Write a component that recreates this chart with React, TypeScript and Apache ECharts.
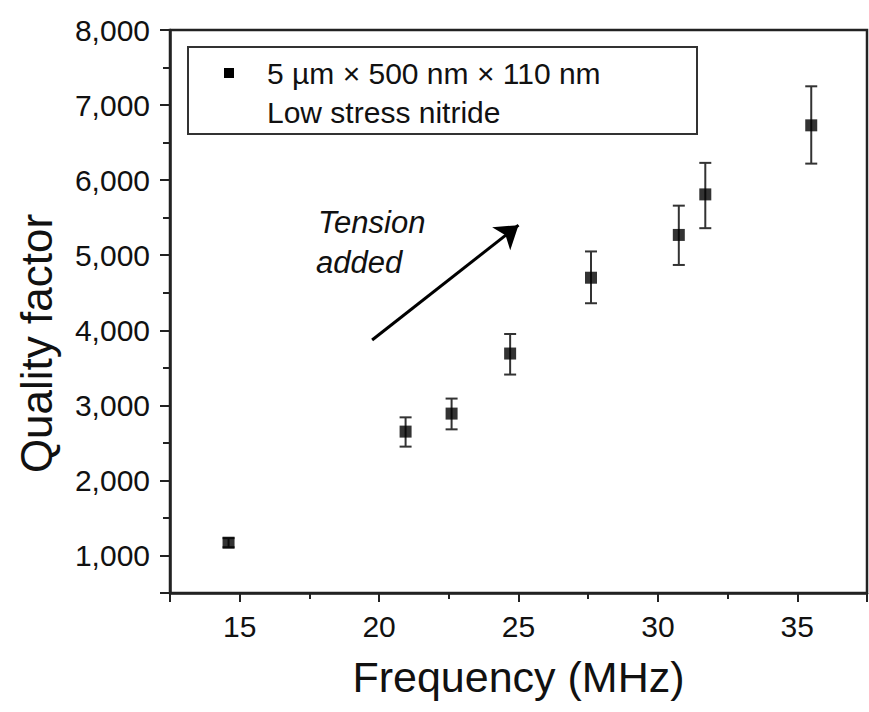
import React, { useEffect, useRef } from "react";
import * as echarts from "echarts";

const freqMHz = [14.6, 20.95, 22.6, 24.7, 27.6, 30.75, 31.7, 35.5];
const qualityFactor = [1170, 2650, 2890, 3690, 4700, 5270, 5810, 6730];
const qLow = [1110, 2450, 2680, 3410, 4360, 4870, 5360, 6220];
const qHigh = [1230, 2840, 3090, 3950, 5050, 5660, 6230, 7250];
const arrowStart = [19.75, 3870];
const arrowEnd = [25.0, 5400];
const legendLines = ["5 µm × 500 nm × 110 nm", "Low stress nitride"];
const annotationLines = ["Tension", "added"];
const xTitle = "Frequency (MHz)";
const yTitle = "Quality factor";

const FONT = "'Liberation Sans', Arial, Helvetica, sans-serif";
const INK = "#111";

export default function App() {
  const ref = useRef<HTMLDivElement>(null);
  useEffect(() => {
    if (!ref.current) return;
    const chart = echarts.init(ref.current, null, { renderer: "svg" });
    const option: any = {
      animation: false,
      backgroundColor: "#fff",
      grid: {
        left: 170,
        right: 2,
        top: 30,
        bottom: 119,
        show: true,
        borderColor: "#222",
        borderWidth: 2.5,
        backgroundColor: "transparent",
      },
      xAxis: {
        type: "value",
        min: 12.5,
        max: 37.5,
        splitNumber: 5,
        name: xTitle,
        nameLocation: "middle",
        nameGap: 62,
        nameTextStyle: { fontFamily: FONT, fontSize: 43, color: INK },
        axisLine: { show: true, lineStyle: { color: "#222", width: 2.5 } },
        axisTick: { show: true, inside: false, length: 9, lineStyle: { color: "#222", width: 2 } },
        minorTick: { show: true, splitNumber: 2, length: 6, lineStyle: { color: "#222", width: 2 } },
        axisLabel: {
          showMinLabel: false,
          showMaxLabel: false,
          margin: 18,
          fontFamily: FONT,
          fontSize: 30,
          color: INK,
        },
        splitLine: { show: false },
      },
      yAxis: {
        type: "value",
        min: 500,
        max: 8000,
        splitNumber: 8,
        name: yTitle,
        nameLocation: "middle",
        nameGap: 112,
        nameTextStyle: { fontFamily: FONT, fontSize: 44, color: INK, padding: [0, 64, 0, 0] },
        axisLine: { show: true, lineStyle: { color: "#222", width: 2.5 } },
        axisTick: { show: true, inside: false, length: 10, lineStyle: { color: "#222", width: 2 } },
        minorTick: { show: true, splitNumber: 2, length: 7, lineStyle: { color: "#222", width: 2 } },
        axisLabel: {
          showMinLabel: false,
          margin: 20,
          fontFamily: FONT,
          fontSize: 30,
          color: INK,
          formatter: (v: number) => v.toLocaleString("en-US"),
        },
        splitLine: { show: false },
      },
      series: [
        {
          type: "custom",
          name: "error",
          data: freqMHz.map((f, i) => [f, qLow[i], qHigh[i]]),
          encode: { x: 0, y: [1, 2] },
          z: 2,
          renderItem: (params: any, api: any) => {
            const x = api.value(0);
            const pLo = api.coord([x, api.value(1)]);
            const pHi = api.coord([x, api.value(2)]);
            const half = 6;
            const st = { stroke: "#333", lineWidth: 2 };
            return {
              type: "group",
              children: [
                { type: "line", shape: { x1: pLo[0], y1: pLo[1], x2: pHi[0], y2: pHi[1] }, style: st },
                { type: "line", shape: { x1: pLo[0] - half, y1: pLo[1], x2: pLo[0] + half, y2: pLo[1] }, style: st },
                { type: "line", shape: { x1: pHi[0] - half, y1: pHi[1], x2: pHi[0] + half, y2: pHi[1] }, style: st },
              ],
            };
          },
        },
        {
          type: "scatter",
          name: legendLines[0],
          data: freqMHz.map((f, i) => [f, qualityFactor[i]]),
          symbol: "rect",
          symbolSize: 12,
          itemStyle: { color: "#000" },
          z: 3,
          markLine: {
            silent: true,
            symbol: ["none", "arrow"],
            symbolSize: 22,
            label: { show: false },
            lineStyle: { color: "#000", width: 3, type: "solid" },
            data: [[{ coord: arrowStart }, { coord: arrowEnd }]],
          },
        },
      ],
      graphic: [
        {
          type: "group",
          children: [
            {
              type: "rect",
              shape: { x: 188, y: 47, width: 509, height: 87 },
              style: { fill: "#fff", stroke: "#333", lineWidth: 2 },
            },
            {
              type: "rect",
              shape: { x: 224, y: 68, width: 10, height: 10 },
              style: { fill: "#000" },
            },
            {
              type: "text",
              x: 267,
              y: 73,
              style: {
                text: legendLines[0],
                font: `30px ${FONT}`,
                fill: INK,
                verticalAlign: "middle",
              },
            },
            {
              type: "text",
              x: 267,
              y: 112,
              style: {
                text: legendLines[1],
                font: `30px ${FONT}`,
                fill: INK,
                verticalAlign: "middle",
              },
            },
          ],
        },
        {
          type: "text",
          x: 318,
          y: 222,
          style: {
            text: annotationLines[0],
            font: `italic 31px ${FONT}`,
            fill: INK,
            verticalAlign: "middle",
          },
        },
        {
          type: "text",
          x: 316,
          y: 262,
          style: {
            text: annotationLines[1],
            font: `italic 31px ${FONT}`,
            fill: INK,
            verticalAlign: "middle",
          },
        },
      ],
    };
    chart.setOption(option);
    return () => chart.dispose();
  }, []);
  return <div ref={ref} style={{ width: 869, height: 712, position: "absolute", left: 0, top: 0 }} />;
}
